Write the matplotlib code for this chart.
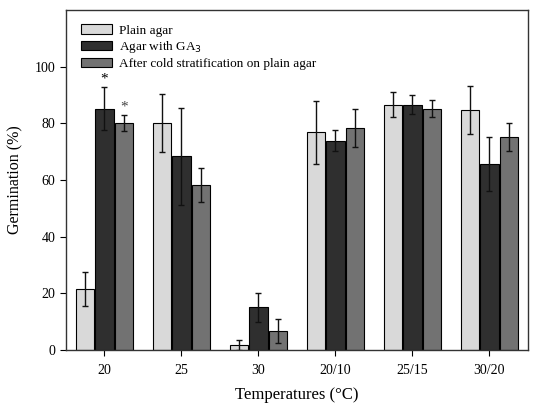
import matplotlib
matplotlib.use("Agg")
import matplotlib.pyplot as plt
import numpy as np

plt.rcParams['font.family'] = ['Liberation Serif', 'DejaVu Serif']

# data
temps = ['20', '25', '30', '20/10', '25/15', '30/20']
plain = [21.5, 80.0, 1.7, 76.8, 86.6, 84.6]
plain_err = [6.0, 10.3, 1.8, 11.0, 4.5, 8.5]
ga3 = [85.1, 68.3, 15.0, 73.9, 86.6, 65.7]
ga3_err = [7.6, 17.0, 5.0, 3.8, 3.3, 9.5]
cold = [80.0, 58.3, 6.7, 78.3, 85.1, 75.1]
cold_err = [2.8, 6.0, 4.4, 6.7, 3.0, 5.0]
labels = ['Plain agar', 'Agar with GA$_3$', 'After cold stratification on plain agar']
colors = ['#d9d9d9', '#2f2f2f', '#727272']

fig = plt.figure(figsize=(5.34, 4.09), dpi=100)
ax = fig.add_axes([0.1236, 0.1443, 0.865, 0.8313])

x = np.arange(len(temps))
w = 0.25
series = [(plain, plain_err), (ga3, ga3_err), (cold, cold_err)]
for i, (vals, errs) in enumerate(series):
	ax.bar(x + (i - 1) * w, vals, w * 0.95, yerr=errs, color=colors[i], edgecolor='black',
		linewidth=0.8, label=labels[i], capsize=2.5,
		error_kw=dict(elinewidth=1.0, capthick=1.0, ecolor='#111111'))

# significance marks
ax.text(x[0], ga3[0] + ga3_err[0] + 0.5, '*', ha='center', va='bottom', fontsize=11)
ax.text(x[0] + w, cold[0] + cold_err[0] + 0.5, '*', ha='center', va='bottom', fontsize=11, color='#444444')

ax.set_xlim(-0.5, 5.5)
ax.set_ylim(0, 120)
ax.set_xticks(x)
ax.set_xticklabels(temps, fontsize=10)
ax.set_yticks([0, 20, 40, 60, 80, 100])
ax.tick_params(axis='y', labelsize=10, direction='out', length=4)
ax.tick_params(axis='x', direction='out', length=4, pad=6)
for s in ax.spines.values():
	s.set_linewidth(1.0)
	s.set_color('#333333')

ax.set_xlabel('Temperatures (°C)', fontsize=12, labelpad=7)
ax.set_ylabel('Germination (%)', fontsize=11.5, labelpad=8)

ax.legend(loc='upper left', bbox_to_anchor=(0.0, 1.0), frameon=False, fontsize=9.5,
	handlelength=2.4, handleheight=0.7, labelspacing=0.2, borderaxespad=0.7, handletextpad=0.5)

fig.savefig('out.png', dpi=100)
